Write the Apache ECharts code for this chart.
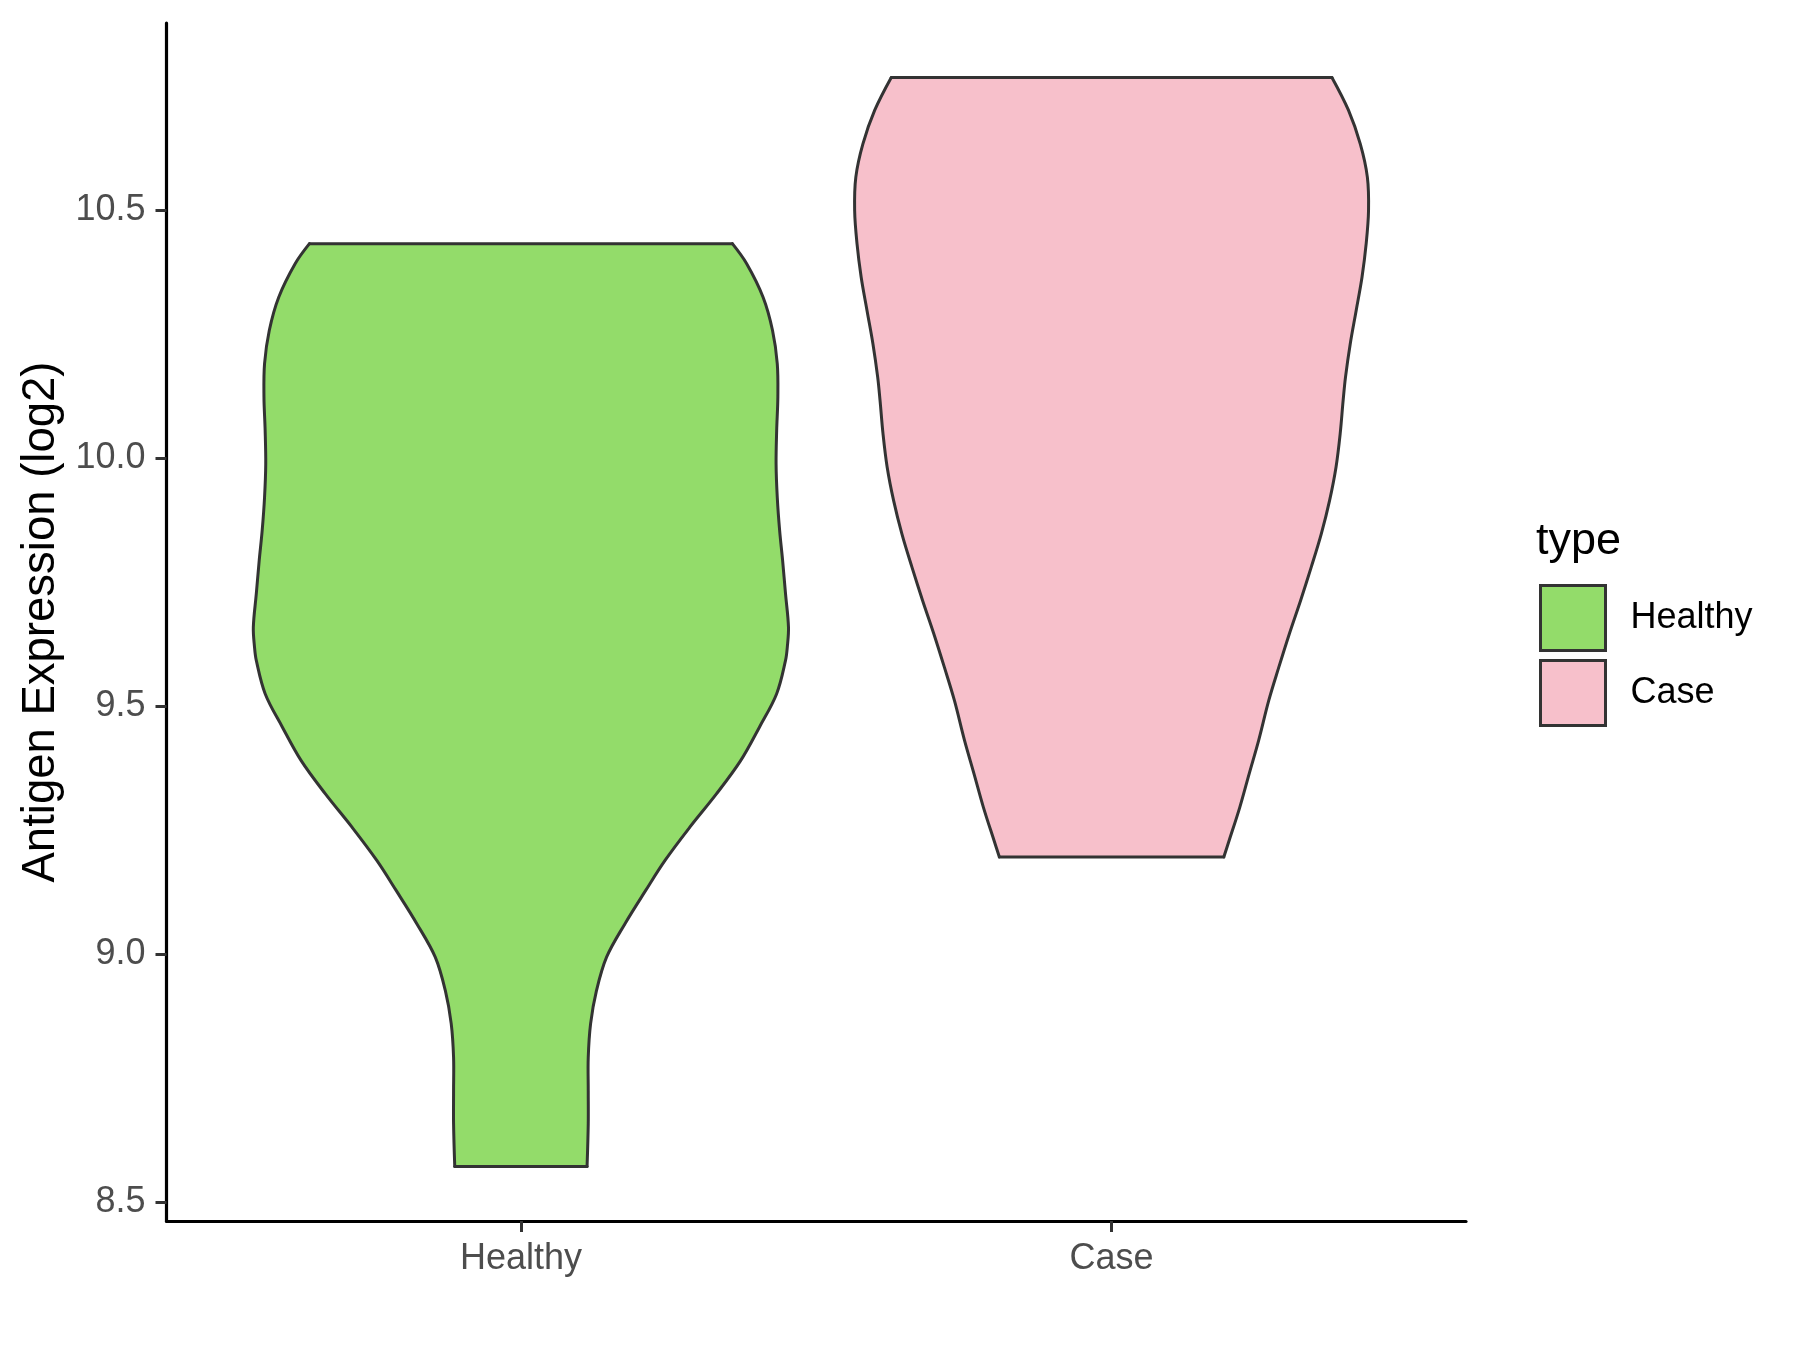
<!DOCTYPE html>
<html><head><meta charset="utf-8">
<script src="https://cdn.jsdelivr.net/npm/echarts@6/dist/echarts.min.js"></script>
<style>html,body{margin:0;padding:0;background:#fff}#c{width:1800px;height:1350px}</style>
</head><body><div id="c"></div>
<script>
const categories = ['Healthy', 'Case'];
const yTicks = [8.5, 9.0, 9.5, 10.0, 10.5];
const colors = ['#93DC6A', '#F7C0CB'];

// Violin outlines: y value and half-width (x-axis units)
const healthyY = [8.572, 8.658, 8.725, 8.792, 8.860, 8.927, 8.994, 9.061, 9.128, 9.189, 9.256, 9.323, 9.390, 9.458, 9.525, 9.592, 9.619, 9.659, 9.726, 9.794, 9.854, 9.921, 9.988, 10.056, 10.123, 10.190, 10.257, 10.324, 10.392, 10.432];
const healthyHalfWidth = [0.112, 0.114, 0.114, 0.114, 0.118, 0.128, 0.145, 0.176, 0.211, 0.244, 0.286, 0.331, 0.372, 0.404, 0.433, 0.448, 0.451, 0.453, 0.448, 0.443, 0.438, 0.434, 0.432, 0.433, 0.435, 0.434, 0.426, 0.410, 0.382, 0.358];
const caseY = [9.196, 9.229, 9.296, 9.364, 9.431, 9.511, 9.578, 9.646, 9.713, 9.780, 9.847, 9.914, 9.982, 10.049, 10.116, 10.163, 10.230, 10.297, 10.365, 10.432, 10.499, 10.566, 10.633, 10.701, 10.767];
const caseHalfWidth = [0.190, 0.199, 0.217, 0.233, 0.249, 0.266, 0.283, 0.301, 0.320, 0.338, 0.355, 0.369, 0.380, 0.387, 0.392, 0.396, 0.404, 0.414, 0.424, 0.431, 0.435, 0.433, 0.421, 0.401, 0.373];

const FONT = '"Liberation Sans", Arial, Helvetica, sans-serif';
const allY = healthyY.concat(caseY);
const dMin = Math.min.apply(null, allY), dMax = Math.max.apply(null, allY);
const pad = 0.05 * (dMax - dMin);
const catPos = categories.map((c, i) => i + 1);

function violinRender(ys, hws) {
  return function (params, api) {
    const cx = api.value(0);
    const right = [], left = [];
    for (let i = 0; i < ys.length; i++) {
      right.push(api.coord([cx + hws[i], ys[i]]));
      left.push(api.coord([cx - hws[i], ys[i]]));
    }
    const outline = right.concat(left.slice().reverse());
    const stroke = { stroke: '#333333', lineWidth: 3, fill: null, lineCap: 'round', lineJoin: 'round' };
    const n = ys.length - 1;
    return {
      type: 'group',
      children: [
        { type: 'polygon', shape: { points: outline, smooth: 0 }, style: { fill: api.visual('color'), stroke: api.visual('color'), lineWidth: 1 } },
        { type: 'polyline', shape: { points: right, smooth: 0.35 }, style: stroke },
        { type: 'polyline', shape: { points: left, smooth: 0.35 }, style: stroke },
        { type: 'line', shape: { x1: left[n][0], y1: left[n][1], x2: right[n][0], y2: right[n][1] }, style: stroke },
        { type: 'line', shape: { x1: left[0][0], y1: left[0][1], x2: right[0][0], y2: right[0][1] }, style: stroke }
      ]
    };
  };
}

const chart = echarts.init(document.getElementById('c'), null, { renderer: 'canvas' });
chart.setOption({
  animation: false,
  backgroundColor: '#ffffff',
  grid: { left: 166.5, right: 334, top: 23, bottom: 129, containLabel: false },
  title: {
    text: 'type', left: 1536, top: 519, padding: 0,
    textStyle: { fontSize: 45, fontWeight: 'normal', color: '#000000', fontFamily: FONT }
  },
  legend: {
    orient: 'vertical', left: 1539, top: 584, padding: 0,
    itemWidth: 65, itemHeight: 65, itemGap: 7, selectedMode: false,
    textStyle: { fontSize: 36, color: '#000000', fontFamily: FONT, padding: [4, 0, 0, 20] },
    data: categories.map((c, i) => ({
      name: c, icon: 'rect',
      itemStyle: { color: colors[i], borderColor: '#333333', borderWidth: 3 }
    }))
  },
  xAxis: {
    type: 'value', min: 0.4, max: 2.6,
    splitLine: { show: false },
    axisLine: { show: true, onZero: false, lineStyle: { color: '#000000', width: 3.2 } },
    axisTick: { show: true, customValues: catPos, length: 11, lineStyle: { color: '#333333', width: 3 } },
    axisLabel: {
      customValues: catPos, formatter: v => categories[Math.round(v) - 1],
      color: '#4D4D4D', fontSize: 36, margin: 20, fontFamily: FONT
    }
  },
  yAxis: {
    type: 'value', min: dMin - pad, max: dMax + pad,
    splitLine: { show: false },
    axisLine: { show: true, onZero: false, lineStyle: { color: '#000000', width: 3.2 } },
    axisTick: { show: true, customValues: yTicks, length: 11, lineStyle: { color: '#333333', width: 3 } },
    axisLabel: {
      customValues: yTicks, formatter: v => v.toFixed(1),
      color: '#4D4D4D', fontSize: 36, margin: 21, fontFamily: FONT
    },
    name: 'Antigen Expression (log2)', nameLocation: 'middle', nameGap: 102,
    nameTextStyle: { fontSize: 45.5, color: '#000000', fontFamily: FONT }
  },
  series: [
    { name: categories[0], type: 'custom', clip: false, itemStyle: { color: colors[0] },
      data: [[catPos[0], (healthyY[0] + healthyY[healthyY.length - 1]) / 2]],
      renderItem: violinRender(healthyY, healthyHalfWidth) },
    { name: categories[1], type: 'custom', clip: false, itemStyle: { color: colors[1] },
      data: [[catPos[1], (caseY[0] + caseY[caseY.length - 1]) / 2]],
      renderItem: violinRender(caseY, caseHalfWidth) }
  ]
});
</script>
</body></html>
